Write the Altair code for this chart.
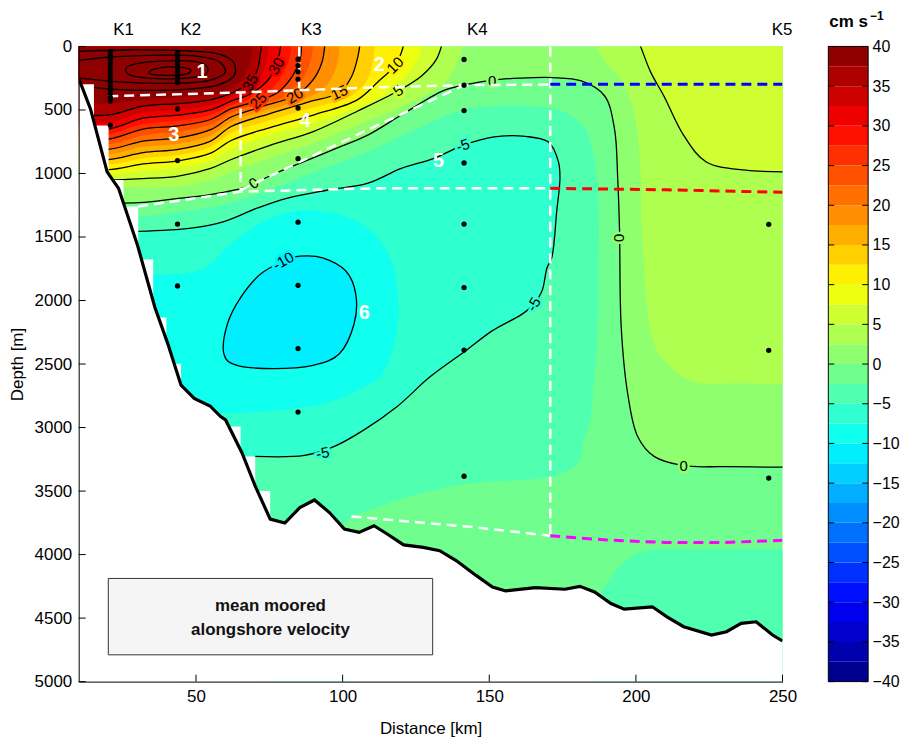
import altair as alt
import pandas as pd

FONT = "Liberation Sans"

# ---------------- values (x: km, d: depth in m) ----------------
x_ticks = [50, 100, 150, 200, 250]
y_ticks = [0, 500, 1000, 1500, 2000, 2500, 3000, 3500, 4000, 4500, 5000]
cbar_ticks = [-40, -35, -30, -25, -20, -15, -10, -5, 0, 5, 10, 15, 20, 25, 30, 35, 40]
cbar_lower = [-40, -37.5, -35, -32.5, -30, -27.5, -25, -22.5, -20, -17.5, -15, -12.5,
              -10, -7.5, -5, -2.5, 0, 2.5, 5, 7.5, 10, 12.5, 15, 17.5, 20, 22.5, 25,
              27.5, 30, 32.5, 35, 37.5]

station_names = ["K1", "K2", "K3", "K4", "K5"]
station_x = [20.8, 43.7, 84.8, 141.4, 245.3]
k1_depth = [40, 70, 100, 130, 160, 190, 220, 250, 280, 310, 340, 370, 400, 430, 620]
k2_depth = [50, 80, 110, 140, 170, 200, 230, 260, 285, 492, 898, 1398, 1885]
k3_depth = [100, 150, 200, 258, 485, 883, 1383, 1880, 2378, 2878]
k4_depth = [102, 305, 505, 917, 1398, 1898, 2390, 3383]
k5_depth = [1400, 2392, 3398]

bathy_x = [10, 14, 19.7, 23.6, 30, 36, 40.4, 44.9, 49.4, 54.8, 58.4, 60.1, 65.7, 70.2,
           75.3, 80.3, 85.4, 90.4, 95.5, 100.6, 105.6, 110.7, 115.2, 120.8, 127.5, 133.1,
           138.7, 145.5, 151.1, 155.6, 165.7, 175.8, 180.9, 185.9, 191.5, 196, 205.6,
           210.6, 216.3, 225.8, 230.9, 235.9, 241, 246.6, 250]
bathy_d = [250, 490, 987, 1117, 1560, 2055, 2341, 2666, 2771, 2830, 2914, 2940, 3200, 3461,
           3721, 3752, 3630, 3570, 3669, 3799, 3825, 3773, 3838, 3924, 3943, 3969, 4047,
           4164, 4255, 4286, 4260, 4273, 4250, 4294, 4385, 4430, 4411, 4490, 4568, 4633,
           4607, 4541, 4529, 4633, 4680]

# grid mask on the upper slope (column right edge, depth where the field stops)
mask_right = [15.2, 20.2, 25.3, 30.3, 35.4, 39.9, 44.9, 65.2, 70.2, 75.3]
mask_top = [297, 622, 1052, 1260, 1677, 2133, 2497, 2992, 3227, 3500]

# contour lines (positive levels, from the slope to the surface)
c_0 = [(8, 1225), (30.3, 1230), (42.7, 1200), (53.8, 1170), (65.2, 1120), (69.7, 1078),
       (78, 990), (87, 905), (98, 800), (108.4, 700), (120, 540), (134.2, 349), (142.1, 300),
       (151, 265), (160, 250), (171.3, 245), (181.4, 271), (189.3, 388), (192.7, 648),
       (193.8, 1039), (194.4, 1430), (195, 2211), (197.2, 2732), (200.6, 3070), (206.2, 3227),
       (216.3, 3300), (230, 3308), (252, 3312)]
c_2p5_left = [(8, 1100), (20.2, 1100), (32, 1110), (44, 1100), (55, 1050), (62, 990), (75, 880),
              (90, 760), (108, 590), (125, 420), (135, 280), (139, 130), (141, -30)]
c_2p5_right = [(186, -30), (189, 100), (196, 300), (200, 600), (201.6, 1000), (202, 1430),
               (206.2, 2341), (211.8, 2523), (219.6, 2640), (235, 2652), (252, 2656)]
c_5_left = [(8, 1040), (20.2, 1050), (32, 1040), (44, 1020), (55, 960), (62, 890), (75, 780),
            (90, 670), (105, 510), (119, 349), (127, 230), (132, 100), (134, -30)]
c_5_right = [(201, -30), (201.6, 0), (205, 200), (209.5, 388), (216.3, 700), (224, 909),
             (237.5, 974), (252, 987)]
c_7p5 = [(8, 1000), (20.2, 1010), (32, 980), (44, 955), (55, 900), (62, 810), (75, 700),
         (90, 600), (105, 480), (115, 370), (122, 220), (126, 80), (127, -30)]
c_10 = [(8, 960), (20.2, 970), (32, 925), (44, 900), (55, 840), (62, 740), (75, 640), (90, 540),
        (105, 420), (112, 280), (117.9, 148), (120, 50), (121, -30)]
c_12p5 = [(8, 920), (20.2, 930), (32, 880), (44, 855), (55, 790), (62, 680), (75, 580), (90, 480),
          (102, 400), (108, 280), (110, 150), (111, -30)]
c_15 = [(8, 880), (20.2, 890), (32, 835), (44, 810), (55, 745), (62, 630), (75, 530), (88, 440),
        (98.9, 362), (103, 240), (105, 100), (106, -30)]
c_17p5 = [(8, 840), (20.2, 850), (32, 790), (44, 765), (55, 700), (62, 590), (74, 500), (86, 420),
          (94, 320), (98, 150), (99, -30)]
c_20 = [(8, 800), (20.2, 810), (32, 745), (44, 720), (55, 655), (62, 555), (73, 470), (83.7, 388),
        (90, 260), (93, 120), (94, -30)]
c_22p5 = [(8, 760), (20.2, 770), (32, 700), (44, 670), (55, 615), (62, 520), (72, 450), (80, 400),
          (86, 270), (89, 120), (90, -30)]
c_25 = [(8, 720), (20.2, 730), (32, 650), (44, 625), (55, 575), (62, 490), (71.3, 427), (78, 360),
        (83, 230), (85.5, 100), (86, -30)]
c_27p5 = [(8, 680), (20.2, 690), (32, 610), (44, 585), (55, 540), (62, 460), (68, 420), (76, 330),
          (80, 200), (82, 80), (82.5, -30)]
c_30 = [(8, 640), (20.2, 650), (32, 565), (44, 540), (55, 500), (62, 430), (68, 380), (74, 280),
        (77.4, 154), (78.5, 50), (79, -30)]
c_32p5 = [(8, 590), (20.2, 600), (32, 520), (44, 500), (55, 460), (62, 400), (67, 350), (72, 250),
          (74, 120), (75, -30)]
c_35 = [(8, 530), (20.2, 540), (32, 470), (44, 450), (55, 420), (62, 370), (66, 320), (68.5, 284),
        (71, 180), (72, 50), (72.5, -30)]
c_37p5 = [(8, 440), (20.2, 450), (32, 420), (44, 400), (55, 380), (62, 330), (66, 250),
          (68.5, 120), (69.5, -30)]
# core contours (above the colour range)
c_40 = [(8, 40), (25, 28), (45, 33), (58, 60), (63, 130), (63, 230), (58, 300), (45, 340),
        (30, 345), (18, 330), (8, 300)]
c_45 = [(8, 117), (20, 85), (35, 70), (50, 75), (58, 120), (60, 200), (55, 265), (42, 290),
        (25, 280), (8, 242)]
c_50 = [(26, 190), (29, 140), (38, 115), (50, 120), (54, 170), (52, 230), (42, 255), (30, 240),
        (26, 190)]
c_55 = [(34, 200), (37, 170), (43, 162), (48, 180), (47, 215), (41, 228), (35, 220), (34, 200)]

# negative levels
c_m2p5 = [(8, 1340), (30.3, 1340), (45, 1300), (60, 1240), (75, 1130), (90, 990), (108.4, 830),
          (125.3, 648), (142, 492), (159, 466), (170, 480), (175.8, 518), (182.6, 648), (186, 909),
          (187.3, 1300), (187.3, 1664), (187, 2211), (185.5, 2700), (184, 2990), (182.6, 3070),
          (180.3, 3279), (173.6, 3370), (165, 3406), (145.5, 3435), (130, 3500), (113, 3617),
          (100.6, 3747), (98, 3900)]
c_m2p5_bottom = [(186, 4400), (188.2, 4294), (194.9, 4086), (201.6, 3982), (220, 3962), (252, 3956)]
c_m5 = [(8, 1456), (30.3, 1456), (48.3, 1430), (59.5, 1378), (70.8, 1273), (80.9, 1195),
        (95, 1130), (108.4, 1078), (120, 960), (130.9, 883), (141, 779), (151.1, 714),
        (162.3, 708), (170.2, 753), (173.6, 909), (174.1, 1039), (173, 1299), (171.3, 1664),
        (169.7, 1742), (168, 1924), (165.2, 2029), (161.2, 2107), (151.1, 2237), (142.1, 2393),
        (129.8, 2601), (118.5, 2836), (107.3, 3018), (97.2, 3148), (87, 3219), (70.2, 3227),
        (8, 3230)]
c_m7p5 = [(8, 1794), (35.4, 1794), (51.7, 1755), (62.9, 1534), (71.9, 1391), (83.1, 1299),
          (96.6, 1310), (108, 1420), (116, 1650), (119, 2000), (118, 2300), (112.9, 2601),
          (107.3, 2680), (96, 2797), (79.2, 2862), (60.1, 2888), (8, 2888)]
c_m10 = [(79.8, 1690), (71.9, 1794), (65.2, 1977), (60.7, 2185), (59.5, 2419), (64, 2510),
         (76.4, 2536), (89.9, 2510), (98.9, 2419), (103.9, 2185), (104.5, 1951), (101.1, 1768),
         (93.2, 1664), (85.4, 1651)]

# contour labels: text, level, x, depth, rotation
clab_text = ["35", "30", "25", "20", "15", "10", "5", "0", "0", "-5", "-10", "-5", "-5", "0", "0"]
clab_level = [35, 30, 25, 20, 15, 10, 5, 0, 0, -5, -10, -5, -5, 0, 0]
clab_x = [68.5, 77.4, 71.3, 83.7, 98.9, 117.9, 119, 151, 69.7, 141, 79.8, 165.2, 93.2, 194.4, 216.3]
clab_d = [284, 154, 427, 388, 362, 148, 349, 271, 1078, 779, 1690, 2029, 3201, 1508, 3305]
clab_angle = [300, 300, 315, 330, 335, 315, 325, 0, 325, 340, 330, 300, 350, 90, 0]

# box numbers
box_text = ["1", "2", "3", "4", "5", "6"]
box_x = [52.1, 112.5, 42.4, 87.2, 132.7, 107.4]
box_d = [203, 148, 695, 586, 898, 2101]

# annotation box (km, m)
note_lines = ["mean moored", "alongshore velocity"]
note_box = {"x0": 20.1, "x1": 130.7, "d0": 4188, "d1": 4789, "xc": 75.4}
note_line_d = [4406, 4594]

# dashed section boundaries
w_top = [(20.1, 392), (65, 362), (110, 323), (141, 305), (170.8, 300)]
w_k3 = [(85.2, 0), (85.2, 340)]
w_vert65 = [(65.2, 362), (65.2, 1130)]
w_diag = [(65.2, 1130), (110, 640), (141, 310)]
w_low = [(30.3, 1260), (65.2, 1143), (110, 1117), (170.8, 1117)]
w_vert171 = [(170.8, 0), (170.8, 3852)]
w_bottom = [(103, 3700), (145.5, 3786), (170.8, 3852)]
blue_line = [(170.8, 297), (250, 297)]
red_line = [(170.8, 1117), (210, 1128), (250, 1148)]
magenta_line = [(170.8, 3852), (190, 3885), (210, 3905), (230, 3905), (250, 3888)]

# ---------------- styling helpers ----------------
W, H = 707, 638
CBW = 40
D_MAX = 5000
xs = alt.Scale(domain=[10, 250], nice=False, zero=False)
ys = alt.Scale(domain=[0, D_MAX], reverse=True, nice=False, zero=False)
XAX = alt.Axis(values=x_ticks, title="Distance [km]", ticks=False, grid=False, domainColor="black",
               labelFont=FONT, labelFontSize=17, labelColor="black", labelPadding=7, labelFlush=False,
               titleFont=FONT, titleFontSize=17, titleFontWeight="normal", titleColor="black",
               titlePadding=16, format="d", zindex=1)
YAX = alt.Axis(values=y_ticks, title="Depth [m]", ticks=False, grid=False, domainColor="black",
               labelFont=FONT, labelFontSize=17, labelColor="black", labelPadding=7, labelFlush=False,
               titleFont=FONT, titleFontSize=17, titleFontWeight="normal", titleColor="black",
               titlePadding=8, format="d", zindex=1)


def X(f):
    return alt.X(f, scale=xs, axis=XAX)


def Y(f):
    return alt.Y(f, scale=ys, axis=YAX)


def jet64(i):
    def u(j):
        if 1 <= j <= 16:
            return j / 16
        if 17 <= j <= 31:
            return 1.0
        if 32 <= j <= 47:
            return (48 - j) / 16
        return 0.0
    r, g, b = u(i - 24), u(i - 8), u(i + 8)
    return "#%02x%02x%02x" % (round(r * 255), round(g * 255), round(b * 255))


def band_color(lower):
    k = int(round((lower + 40) / 2.5)) + 1
    return jet64(2 * k - 1)


def pts_df(pts):
    df = pd.DataFrame(pts, columns=["x", "d"])
    df["i"] = range(len(df))
    return df


def enc(ch):
    return ch.encode(x=X("x:Q"), y=Y("d:Q"), order="i:Q")


def poly(pts, color, interp="catmull-rom"):
    return enc(alt.Chart(pts_df(pts)).mark_line(filled=True, color=color, interpolate=interp,
                                                clip=True, strokeWidth=0))


def cline(pts, interp="catmull-rom", color="black", width=1.3, dash=None):
    kw = dict(color=color, interpolate=interp, clip=True, strokeWidth=width)
    if dash:
        kw["strokeDash"] = dash
    return enc(alt.Chart(pts_df(pts)).mark_line(**kw))


TOP = -300
BOT = 5300
layers = []

# background band [-2.5, 0] over the whole panel
layers.append(alt.Chart(alt.Data(values=[{}])).mark_rect(color=band_color(-2.5)).encode(
    x=alt.value(0), x2=alt.value(W), y=alt.value(0), y2=alt.value(H)))

# positive super-level regions
layers.append(poly(c_0 + [(270, c_0[-1][1]), (270, TOP), (0, TOP), (0, c_0[0][1])], band_color(0)))
left_levels = [(2.5, c_2p5_left), (5, c_5_left), (7.5, c_7p5), (10, c_10), (12.5, c_12p5),
               (15, c_15), (17.5, c_17p5), (20, c_20), (22.5, c_22p5), (25, c_25),
               (27.5, c_27p5), (30, c_30), (32.5, c_32p5), (35, c_35), (37.5, c_37p5)]
right_levels = [(2.5, c_2p5_right), (5, c_5_right)]
for lev, c in left_levels:
    layers.append(poly(c + [(c[-1][0], TOP), (0, TOP), (0, c[0][1])], band_color(lev)))
    for rl, rc in right_levels:
        if rl == lev:
            layers.append(poly(rc + [(270, rc[-1][1]), (270, TOP), (rc[0][0], TOP)], band_color(lev)))

# negative sub-level regions
layers.append(poly(c_m2p5 + [(c_m2p5[-1][0], BOT), (0, BOT), (0, c_m2p5[0][1])], band_color(-5)))
layers.append(poly(c_m2p5_bottom + [(270, c_m2p5_bottom[-1][1]), (270, BOT), (c_m2p5_bottom[0][0], BOT)],
                   band_color(-5)))
layers.append(poly(c_m5 + [(0, c_m5[-1][1]), (0, c_m5[0][1])], band_color(-7.5)))
layers.append(poly(c_m7p5 + [(0, c_m7p5[-1][1]), (0, c_m7p5[0][1])], band_color(-10)))
layers.append(poly(c_m10, band_color(-12.5), interp="cardinal-closed"))

# black contour lines (multiples of 5)
for c in [c_0, c_5_left, c_5_right, c_10, c_15, c_20, c_25, c_30, c_35, c_40, c_45]:
    layers.append(cline(c))
for c in [c_50, c_55]:
    layers.append(cline(c[:-1], interp="cardinal-closed"))
layers.append(cline(c_m5[1:-1]))
layers.append(cline(c_m10, interp="cardinal-closed"))

# contour labels with a gap in the line (halo in the local band colour)
clab_df = pd.DataFrame({"t": clab_text, "x": clab_x, "d": clab_d, "a": clab_angle,
                        "halo": [band_color(v if v >= 0 else v - 2.5) for v in clab_level]})
layers.append(alt.Chart(clab_df).mark_text(font=FONT, fontSize=15, strokeWidth=5).encode(
    x=X("x:Q"), y=Y("d:Q"), text="t:N", angle=alt.Angle("a:Q", scale=None),
    stroke=alt.Stroke("halo:N", scale=None), fill=alt.Fill("halo:N", scale=None)))
layers.append(alt.Chart(clab_df).mark_text(font=FONT, fontSize=15, color="black").encode(
    x=X("x:Q"), y=Y("d:Q"), text="t:N", angle=alt.Angle("a:Q", scale=None)))

# white mask: grid steps on the slope and the sea floor
mask_df = pd.DataFrame({"xr": mask_right, "top": mask_top, "floor": [D_MAX] * len(mask_top)})
layers.append(alt.Chart(mask_df).mark_rect(color="white", clip=True).encode(
    x=X("xr:Q"), x2=alt.value(-4), y=Y("top:Q"), y2="floor:Q"))
bathy_df = pd.DataFrame({"x": bathy_x, "d": bathy_d, "floor": [D_MAX] * len(bathy_d)})
layers.append(alt.Chart(bathy_df).mark_area(color="white", clip=True, stroke="white", strokeWidth=1).encode(
    x=X("x:Q"), y=Y("d:Q"), y2="floor:Q"))

# dashed section lines
for ln in [w_top, w_k3, w_vert65, w_diag, w_low, w_vert171, w_bottom]:
    layers.append(cline(ln, interp="linear", color="white", width=2.5, dash=[10, 6]))
layers.append(cline(blue_line, interp="linear", color="#0000ff", width=3, dash=[10, 6]))
layers.append(cline(red_line, interp="linear", color="#ff0000", width=3, dash=[10, 6]))
layers.append(cline(magenta_line, interp="linear", color="#ff00ff", width=3, dash=[10, 6]))

# bathymetry line
layers.append(alt.Chart(bathy_df).mark_line(color="black", strokeWidth=3.2, clip=True).encode(
    x=X("x:Q"), y=Y("d:Q")))

# instruments
dots = []
for sx, depths in zip(station_x, [k1_depth, k2_depth, k3_depth, k4_depth, k5_depth]):
    for dd in depths:
        dots.append((sx, dd))
dots_df = pd.DataFrame(dots, columns=["x", "d"])
layers.append(alt.Chart(dots_df).mark_circle(color="black", size=28, opacity=1).encode(
    x=X("x:Q"), y=Y("d:Q")))

# inward ticks
layers.append(alt.Chart(pd.DataFrame({"t": x_ticks})).mark_rule(color="black").encode(
    x=X("t:Q"), y=alt.value(H), y2=alt.value(H - 7)))
layers.append(alt.Chart(pd.DataFrame({"t": y_ticks})).mark_rule(color="black").encode(
    y=Y("t:Q"), x=alt.value(0), x2=alt.value(7)))

# box numbers
box_df = pd.DataFrame({"t": box_text, "x": box_x, "d": box_d})
layers.append(alt.Chart(box_df).mark_text(font=FONT, fontSize=20, fontWeight="bold", color="white").encode(
    x=X("x:Q"), y=Y("d:Q"), text="t:N"))

# annotation box
nb_df = pd.DataFrame([note_box])
layers.append(alt.Chart(nb_df).mark_rect(color="#f5f5f5", stroke="#333333", strokeWidth=1).encode(
    x=X("x0:Q"), x2="x1:Q", y=Y("d0:Q"), y2="d1:Q"))
nt_df = pd.DataFrame({"t": note_lines, "d": note_line_d, "x": [note_box["xc"]] * 2})
layers.append(alt.Chart(nt_df).mark_text(font=FONT, fontSize=17, fontWeight="bold", color="#111111").encode(
    x=X("x:Q"), y=Y("d:Q"), text="t:N"))

# station names
st_df = pd.DataFrame({"t": station_names, "x": station_x})
layers.append(alt.Chart(st_df).mark_text(font=FONT, fontSize=17, color="black", align="left", dx=3).encode(
    x=X("x:Q"), y=alt.value(-17), text="t:N"))

main = alt.layer(*layers).properties(width=W, height=H)

# ---------------- colour bar ----------------
cb_df = pd.DataFrame({"lo": cbar_lower, "hi": [v + 2.5 for v in cbar_lower],
                      "c": [band_color(v) for v in cbar_lower]})
cys = alt.Scale(domain=[-40, 40], nice=False, zero=False)
CAX = alt.Axis(orient="right", values=cbar_ticks, ticks=False, domain=False, grid=False, title=None,
               labelFont=FONT, labelFontSize=16, labelColor="black", labelPadding=4, labelFlush=False,
               format="d")
cb_rect = alt.Chart(cb_df).mark_rect().encode(
    x=alt.value(0), x2=alt.value(CBW),
    y=alt.Y("lo:Q", scale=cys, axis=CAX), y2="hi:Q", color=alt.Color("c:N", scale=None))
tk_df = pd.DataFrame({"t": cbar_ticks})
cb_t1 = alt.Chart(tk_df).mark_rule(color="black").encode(
    y=alt.Y("t:Q", scale=cys, axis=CAX), x=alt.value(0), x2=alt.value(6))
cb_t2 = alt.Chart(tk_df).mark_rule(color="black").encode(
    y=alt.Y("t:Q", scale=cys, axis=CAX), x=alt.value(CBW - 6), x2=alt.value(CBW))
cb_frame = alt.Chart(alt.Data(values=[{}])).mark_rect(fillOpacity=0, stroke="black", strokeWidth=1).encode(
    x=alt.value(0), x2=alt.value(CBW), y=alt.value(0), y2=alt.value(H))
cb_title = alt.Chart(alt.Data(values=[{}])).mark_text(
    text="cm s", font=FONT, fontSize=17, fontWeight="bold", align="left", baseline="middle").encode(
    x=alt.value(1), y=alt.value(-25))
cb_sup = alt.Chart(alt.Data(values=[{}])).mark_text(
    text="\u22121", font=FONT, fontSize=12, fontWeight="bold", align="left", baseline="middle").encode(
    x=alt.value(42), y=alt.value(-31))
colorbar = alt.layer(cb_rect, cb_t1, cb_t2, cb_frame, cb_title, cb_sup).properties(width=CBW, height=H)

chart = alt.hconcat(main, colorbar, spacing=30).properties(
    padding={"left": 0, "top": 0, "right": 0, "bottom": 0}).configure_view(stroke=None)
chart.save("out.html", embed_options={"renderer": "svg", "actions": False})
